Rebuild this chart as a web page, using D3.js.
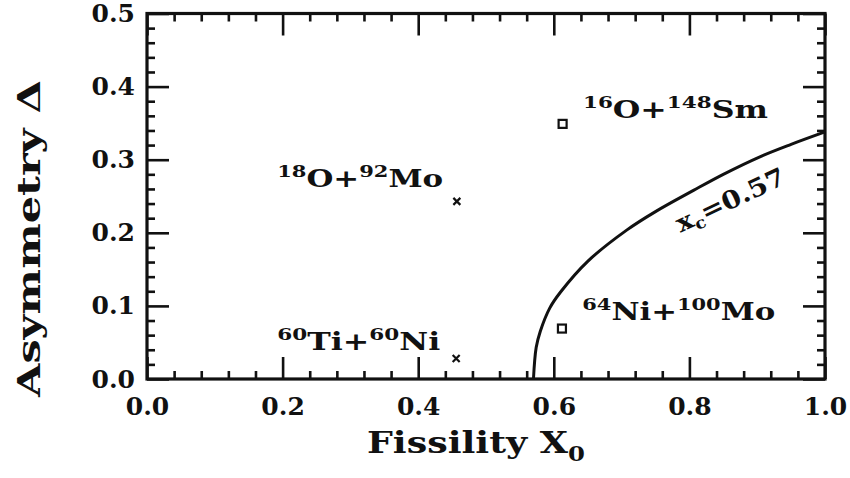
<!DOCTYPE html>
<html>
<head>
<meta charset="utf-8">
<script src="https://cdn.jsdelivr.net/npm/d3@7"></script>
<style>
  html, body { margin: 0; padding: 0; background: #fff; }
  svg { display: block; }
  text { font-family: "DejaVu Serif", serif; font-weight: bold; fill: #111; }
</style>
</head>
<body>
<svg id="chart" width="850" height="478"></svg>
<script>
// ---- data ----
const xTickValues = [0.0, 0.2, 0.4, 0.6, 0.8, 1.0];
const yTickValues = [0.0, 0.1, 0.2, 0.3, 0.4, 0.5];
const xTickLabels = ["0.0", "0.2", "0.4", "0.6", "0.8", "1.0"];
const yTickLabels = ["0.0", "0.1", "0.2", "0.3", "0.4", "0.5"];
const crossX = [0.457, 0.456];
const crossY = [0.243, 0.028];
const squareX = [0.613, 0.612];
const squareY = [0.349, 0.069];
const curveX = [0.570, 0.574, 0.580, 0.594, 0.610, 0.650, 0.708, 0.750, 0.806, 0.850, 0.904, 0.950, 1.000];
const curveY = [0.000, 0.043, 0.065, 0.097, 0.119, 0.161, 0.204, 0.229, 0.258, 0.280, 0.304, 0.321, 0.338];
const labelParts = [
  [["18", true], ["O+", false], ["92", true], ["Mo", false]],
  [["60", true], ["Ti+", false], ["60", true], ["Ni", false]],
  [["16", true], ["O+", false], ["148", true], ["Sm", false]],
  [["64", true], ["Ni+", false], ["100", true], ["Mo", false]]
];
const labelX = [0.192, 0.192, 0.643, 0.642];
const labelY = [0.263, 0.040, 0.357, 0.081];
const curveLabelX = 0.787, curveLabelY = 0.200;

// ---- layout ----
const W = 850, H = 478;
const m = { left: 147, top: 13.5, right: 25, bottom: 99 };
const svg = d3.select("#chart");
const x = d3.scaleLinear().domain([0, 1]).range([m.left, W - m.right]);
const y = d3.scaleLinear().domain([0, 0.5]).range([H - m.bottom, m.top]);
const pw = W - m.left - m.right, ph = H - m.top - m.bottom;

const xMinor = d3.range(0, 1.0001, 0.04).filter(v => Math.abs(v / 0.2 - Math.round(v / 0.2)) > 1e-6);
const yMinor = d3.range(0, 0.5001, 0.02).filter(v => Math.abs(v / 0.1 - Math.round(v / 0.1)) > 1e-6);
const MAJ = 22, MIN = 8;

function styleAxis(g) {
  g.select(".domain").remove();
  g.selectAll(".tick line").attr("stroke", "#111").attr("stroke-width", 2.6);
}
function styleLabels(g) {
  g.selectAll(".tick text").attr("font-size", 25).attr("fill", "#111")
    .attr("font-family", "DejaVu Serif").attr("font-weight", "bold");
}

// bottom
svg.append("g").attr("transform", `translate(0,${H - m.bottom})`)
  .call(d3.axisBottom(x).tickValues(xTickValues).tickSize(-MAJ).tickPadding(18)
    .tickFormat((d, i) => xTickLabels[i]))
  .call(styleAxis).call(styleLabels);
svg.append("g").attr("transform", `translate(0,${H - m.bottom})`)
  .call(d3.axisBottom(x).tickValues(xMinor).tickSize(-MIN).tickFormat(""))
  .call(styleAxis);
// top
svg.append("g").attr("transform", `translate(0,${m.top})`)
  .call(d3.axisTop(x).tickValues(xTickValues).tickSize(-MAJ).tickFormat(""))
  .call(styleAxis);
svg.append("g").attr("transform", `translate(0,${m.top})`)
  .call(d3.axisTop(x).tickValues(xMinor).tickSize(-MIN).tickFormat(""))
  .call(styleAxis);
// left
svg.append("g").attr("transform", `translate(${m.left},0)`)
  .call(d3.axisLeft(y).tickValues(yTickValues).tickSize(-MAJ).tickPadding(12)
    .tickFormat((d, i) => yTickLabels[i]))
  .call(styleAxis).call(styleLabels);
svg.append("g").attr("transform", `translate(${m.left},0)`)
  .call(d3.axisLeft(y).tickValues(yMinor).tickSize(-MIN).tickFormat(""))
  .call(styleAxis);
// right
svg.append("g").attr("transform", `translate(${W - m.right},0)`)
  .call(d3.axisRight(y).tickValues(yTickValues).tickSize(-MAJ).tickFormat(""))
  .call(styleAxis);
svg.append("g").attr("transform", `translate(${W - m.right},0)`)
  .call(d3.axisRight(y).tickValues(yMinor).tickSize(-MIN).tickFormat(""))
  .call(styleAxis);

// frame
svg.append("rect").attr("x", m.left).attr("y", m.top).attr("width", pw).attr("height", ph)
  .attr("fill", "none").attr("stroke", "#111").attr("stroke-width", 3.2);

// curve
const curvePts = curveX.map((v, i) => [v, curveY[i]]);
svg.append("path").datum(curvePts)
  .attr("d", d3.line().x(d => x(d[0])).y(d => y(d[1])).curve(d3.curveCatmullRom.alpha(0.5)))
  .attr("fill", "none").attr("stroke", "#111").attr("stroke-width", 3);

// crosses
const cs = 3.5;
crossX.forEach((cx, i) => {
  const px = x(cx), py = y(crossY[i]);
  svg.append("path")
    .attr("d", `M${px - cs},${py - cs}L${px + cs},${py + cs}M${px - cs},${py + cs}L${px + cs},${py - cs}`)
    .attr("stroke", "#111").attr("stroke-width", 2.2);
});
// squares
const sq = 8;
squareX.forEach((sx, i) => {
  svg.append("rect").attr("x", x(sx) - sq / 2).attr("y", y(squareY[i]) - sq / 2)
    .attr("width", sq).attr("height", sq).attr("fill", "none")
    .attr("stroke", "#111").attr("stroke-width", 2.2);
});

// reaction labels
const labelLen = [166, 163, 185, 193];
labelParts.forEach((parts, i) => {
  const t = svg.append("text").attr("x", x(labelX[i])).attr("y", y(labelY[i]))
    .attr("font-size", 25);
  let up = false;
  parts.forEach(([s, sup]) => {
    const ts = t.append("tspan").text(s);
    if (sup) { ts.attr("font-size", 17).attr("dy", up ? 0 : -10); up = true; }
    else { ts.attr("dy", up ? 10 : 0); up = false; }
  });
  t.attr("textLength", labelLen[i]).attr("lengthAdjust", "spacingAndGlyphs");
});

// curve label
const cl = svg.append("text")
  .attr("transform", `translate(${x(curveLabelX)},${y(curveLabelY)}) rotate(-25)`)
  .attr("font-size", 25);
cl.append("tspan").text("x");
cl.append("tspan").text("c").attr("font-size", 16).attr("dy", 5);
cl.append("tspan").text("=0.57").attr("dy", -5);
cl.attr("textLength", 118).attr("lengthAdjust", "spacingAndGlyphs");

// axis titles
const xt = svg.append("text").attr("x", 367).attr("y", 453).attr("font-size", 30);
xt.append("tspan").text("Fissility X");
xt.append("tspan").text("0").attr("font-size", 20).attr("dy", 8);
xt.attr("textLength", 218).attr("lengthAdjust", "spacingAndGlyphs");

svg.append("text").attr("transform", `translate(40,397) rotate(-90)`)
  .attr("font-size", 31).text("Asymmetry \u0394")
  .attr("textLength", 317).attr("lengthAdjust", "spacingAndGlyphs");
</script>
</body>
</html>
